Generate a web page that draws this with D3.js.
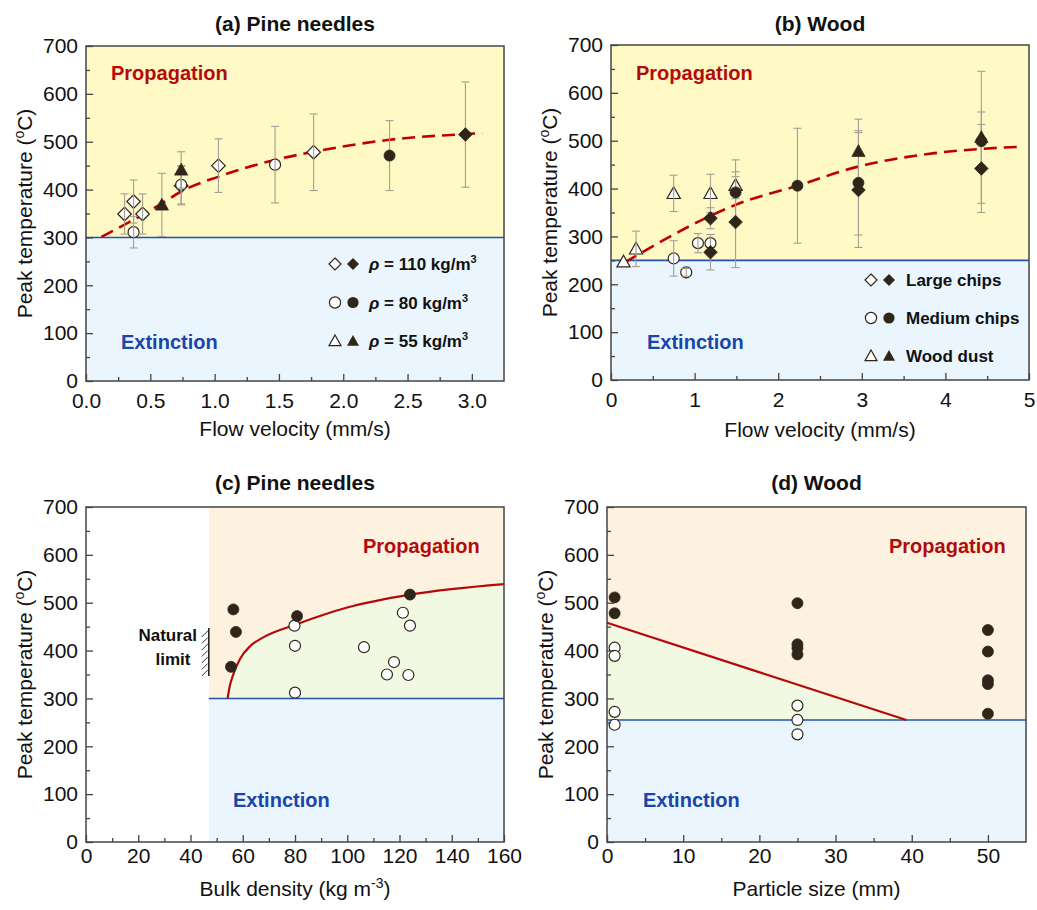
<!DOCTYPE html>
<html>
<head>
<meta charset="utf-8">
<script src="https://cdn.jsdelivr.net/npm/d3@7"></script>
<style>
  body { margin: 0; background: #fff; }
  svg { display: block; font-family: "Liberation Sans", Arial, sans-serif; }
</style>
</head>
<body>
<svg id="fig" width="1037" height="910"></svg>
<script>
// ---- data: [x, peak T, error] ----
// (a) pine needles vs flow velocity
const aOpen110   = [[0.30,349,42],[0.37,375,45],[0.44,349,42],[0.74,408,40],[1.03,450,56],[1.77,478,80]];
const aFilled110 = [[2.95,515,110]];
const aOpen80    = [[0.37,311,33],[0.74,410,40],[1.47,452,80]];
const aFilled80  = [[2.36,471,73]];
const aFilled55  = [[0.59,368,66],[0.74,441,38]];
const aFit       = [[0.12,301],[0.59,371],[0.74,396],[1.03,427],[1.47,462],[1.77,479],[2.36,504],[2.95,516],[3.08,518]];
const aLegend    = ["110", "80", "55"];

// (b) wood vs flow velocity
const bOpenDust     = [[0.15,247,0],[0.30,274,37],[0.75,390,38],[1.19,390,40],[1.49,407,28]];
const bOpenMedium   = [[0.75,254,37],[0.90,225,8],[1.04,286,20],[1.19,286,18]];
const bFilledLarge  = [[1.19,338,22],[1.19,267,37],[1.49,330,95],[2.96,397,120],[4.43,442,92]];
const bFilledMedium = [[1.49,392,68],[2.23,406,120],[2.96,412,109],[4.43,499,61]];
const bFilledDust   = [[2.96,478,67],[4.43,507,138]];
const bFit          = [[0.17,246],[1.19,343],[1.49,366],[2.23,406],[2.96,446],[3.87,474],[4.43,483],[4.86,487]];
const bLegend       = ["Large chips", "Medium chips", "Wood dust"];

// (c) pine needles vs bulk density
const cFilled = [[56.4,486],[57.4,439],[55.5,366],[80.8,472],[124,517]];
const cOpen   = [[79.8,452],[80,410],[80,312],[106.4,407],[117.9,376],[115.2,350],[123.4,349],[121.3,479],[124,452]];
const cLimit  = [[54.2,300],[55,325],[56.5,352],[59,383],[63,410],[68,428],[80.6,455],[100,490],[124,517],[160,539]];
const cNatural = 47;   // natural packing limit, kg m-3

// (d) wood vs particle size
const dFilled = [[1,511],[1,478],[25,499],[25,413],[25,405],[25,392],[50,443],[50,398],[50,338],[50,330],[50,268]];
const dOpen   = [[1,406],[1,389],[1,272],[1,245],[25,285],[25,255],[25,225]];
const dLimit  = [[0,458],[39.3,255]];

// extinction threshold per panel
const thresholds = {a: 300, b: 250, c: 300, d: 255};

const svg = d3.select("#fig");
const col = {
  yellow: "#fff9c6", blue: "#eaf5fd", peach: "#fdf1e0", green: "#f1f9e3",
  red: "#b30b0b", dash: "#c00000", blueLine: "#2350b4", blueText: "#1a45aa",
  ink: "#2e2619", bar: "#a49e94", frame: "#444"
};

function shape(kind, s) {
  if (kind === "diamond") return `M0,${-s}L${s},0L0,${s}L${-s},0Z`;
  if (kind === "triangle") return `M0,${-s}L${s},${s*0.78}L${-s},${s*0.78}Z`;
  return `M${s},0A${s},${s} 0 1,1 ${-s},0A${s},${s} 0 1,1 ${s},0Z`;
}
const sizeOf = {diamond: 6.8, circle: 5.5, triangle: 6.6};

function makePanel(o) {
  const x = d3.scaleLinear().domain(o.xDomain).range([o.left, o.right]);
  const y = d3.scaleLinear().domain([0, 700]).range([o.bottom, o.top]);
  const g = svg.append("g");
  return {o, x, y, g, back: g.append("g"), mid: g.append("g"), front: g.append("g")};
}

function markers(p, data, kind, filled) {
  p.mid.selectAll(null).data(data).enter().append("path")
    .attr("d", shape(kind, sizeOf[kind]))
    .attr("transform", d => `translate(${p.x(d[0])},${p.y(d[1])})`)
    .attr("fill", filled ? col.ink : "#fff")
    .attr("stroke", col.ink)
    .attr("stroke-width", filled ? 0.8 : 1.2);
}

function errorBars(p, data) {
  const gb = p.mid.append("g").attr("stroke", col.bar).attr("stroke-width", 1.1);
  data.filter(d => d[2] > 0).forEach(d => {
    const cx = p.x(d[0]);
    gb.append("line").attr("x1", cx).attr("x2", cx).attr("y1", p.y(d[1] - d[2])).attr("y2", p.y(d[1] + d[2]));
    [d[1] - d[2], d[1] + d[2]].forEach(v => {
      gb.append("line").attr("x1", cx - 4).attr("x2", cx + 4).attr("y1", p.y(v)).attr("y2", p.y(v));
    });
  });
}

function frameAndAxes(p, xMajor, xMinor, fmt, xPad) {
  const {o, x, y, front} = p;
  front.append("rect").attr("x", o.left).attr("y", o.top)
    .attr("width", o.right - o.left).attr("height", o.bottom - o.top)
    .attr("fill", "none").attr("stroke", col.frame).attr("stroke-width", 1.5);

  const style = sel => {
    sel.select(".domain").remove();
    sel.selectAll("line").attr("stroke", col.frame).attr("stroke-width", 1.3);
    sel.selectAll("text").attr("font-size", 21).attr("fill", "#111")
      .attr("font-family", '"Liberation Sans", Arial, sans-serif');
  };
  front.append("g").attr("transform", `translate(${o.left},0)`)
    .call(d3.axisLeft(y).tickValues(d3.range(0, 701, 100)).tickSize(-7).tickPadding(8)).call(style);
  front.append("g").attr("transform", `translate(${o.left},0)`)
    .call(d3.axisLeft(y).tickValues(d3.range(50, 700, 100)).tickSize(-4).tickFormat("")).call(style);
  front.append("g").attr("transform", `translate(0,${o.bottom})`)
    .call(d3.axisBottom(x).tickValues(xMajor).tickSize(-7).tickPadding(xPad).tickFormat(fmt)).call(style);
  front.append("g").attr("transform", `translate(0,${o.bottom})`)
    .call(d3.axisBottom(x).tickValues(xMinor).tickSize(-4).tickFormat("")).call(style);

  // y label
  const yl = front.append("text")
    .attr("transform", `translate(${o.left - 54},${(o.top + o.bottom) / 2}) rotate(-90)`)
    .attr("text-anchor", "middle").attr("font-size", 21).attr("fill", "#111");
  yl.append("tspan").text("Peak temperature (");
  yl.append("tspan").attr("font-size", 14).attr("dy", -8).text("o");
  yl.append("tspan").attr("dy", 8).text("C)");
}

function regionLabels(p, px, py, ex, ey) {
  p.front.append("text").attr("x", px).attr("y", py).attr("font-size", 20).attr("font-weight", "bold")
    .attr("fill", col.red).text("Propagation");
  p.front.append("text").attr("x", ex).attr("y", ey).attr("font-size", 20).attr("font-weight", "bold")
    .attr("fill", col.blueText).text("Extinction");
}

function title(p, txt, yy) {
  p.front.append("text").attr("x", (p.o.left + p.o.right) / 2).attr("y", yy)
    .attr("text-anchor", "middle").attr("font-size", 21).attr("font-weight", "bold")
    .attr("fill", "#111").text(txt);
}

function xTitle(p, yy) {
  return p.front.append("text").attr("x", (p.o.left + p.o.right) / 2).attr("y", yy)
    .attr("text-anchor", "middle").attr("font-size", 21).attr("fill", "#111");
}

function flowBackground(p, th) {
  const {o, y} = p;
  p.back.append("rect").attr("x", o.left).attr("y", o.top).attr("width", o.right - o.left)
    .attr("height", y(th) - o.top).attr("fill", col.yellow);
  p.back.append("rect").attr("x", o.left).attr("y", y(th)).attr("width", o.right - o.left)
    .attr("height", o.bottom - y(th)).attr("fill", col.blue);
  p.back.append("line").attr("x1", o.left).attr("x2", o.right).attr("y1", y(th)).attr("y2", y(th))
    .attr("stroke", col.blueLine).attr("stroke-width", 1.6);
}

function fitCurve(p, pts) {
  p.back.append("path").datum(pts)
    .attr("d", d3.line().x(d => p.x(d[0])).y(d => p.y(d[1])).curve(d3.curveMonotoneX))
    .attr("fill", "none").attr("stroke", col.dash).attr("stroke-width", 2.6)
    .attr("stroke-dasharray", "13,7");
}

// ================= (a) =================
const pa = makePanel({left: 86, right: 504, top: 46, bottom: 381, xDomain: [0, 3.25]});
flowBackground(pa, thresholds.a);
fitCurve(pa, aFit);
markers(pa, aOpen110, "diamond", false);
markers(pa, aOpen80, "circle", false);
errorBars(pa, [...aOpen110, ...aOpen80, ...aFilled110, ...aFilled80, ...aFilled55]);
markers(pa, aFilled110, "diamond", true);
markers(pa, aFilled80, "circle", true);
markers(pa, aFilled55, "triangle", true);
frameAndAxes(pa, d3.range(0, 3.01, 0.5), d3.range(0.25, 3.25, 0.5), d3.format(".1f"), 12);
regionLabels(pa, 111, 80, 121, 349);
title(pa, "(a) Pine needles", 31);
xTitle(pa, 436).text("Flow velocity (mm/s)");

const legA = pa.front.append("g");
["diamond", "circle", "triangle"].forEach((k, i) => {
  const yy = 264 + i * 38.5;
  legA.append("path").attr("d", shape(k, k === "circle" ? 5.6 : 6)).attr("transform", `translate(335,${yy})`)
    .attr("fill", "#fff").attr("stroke", col.ink).attr("stroke-width", 1.2);
  legA.append("path").attr("d", shape(k, k === "circle" ? 5.6 : 6)).attr("transform", `translate(353,${yy})`)
    .attr("fill", col.ink);
  const t = legA.append("text").attr("x", 369).attr("y", yy + 6).attr("font-size", 17)
    .attr("font-weight", "bold").attr("fill", "#111");
  t.append("tspan").attr("font-style", "italic").text("ρ");
  t.append("tspan").text(` = ${aLegend[i]} kg/m`);
  t.append("tspan").attr("font-size", 11).attr("dy", -7).text("3");
});

// ================= (b) =================
const pb = makePanel({left: 611, right: 1029, top: 45, bottom: 380, xDomain: [0, 5]});
flowBackground(pb, thresholds.b);
fitCurve(pb, bFit);
markers(pb, bOpenDust, "triangle", false);
markers(pb, bOpenMedium, "circle", false);
errorBars(pb, [...bOpenDust, ...bOpenMedium, ...bFilledLarge, ...bFilledMedium, ...bFilledDust]);
markers(pb, bFilledLarge, "diamond", true);
markers(pb, bFilledMedium, "circle", true);
markers(pb, bFilledDust, "triangle", true);
frameAndAxes(pb, d3.range(0, 5.01, 1), d3.range(0.5, 5, 1), d3.format("d"), 12);
regionLabels(pb, 636, 80, 647, 349);
title(pb, "(b) Wood", 31);
xTitle(pb, 437).text("Flow velocity (mm/s)");

const legB = pb.front.append("g");
["diamond", "circle", "triangle"].forEach((k, i) => {
  const yy = 280 + i * 38;
  legB.append("path").attr("d", shape(k, k === "circle" ? 5.6 : 6)).attr("transform", `translate(871,${yy})`)
    .attr("fill", "#fff").attr("stroke", col.ink).attr("stroke-width", 1.2);
  legB.append("path").attr("d", shape(k, k === "circle" ? 5.6 : 6)).attr("transform", `translate(889,${yy})`)
    .attr("fill", col.ink);
  legB.append("text").attr("x", 906).attr("y", yy + 6).attr("font-size", 17)
    .attr("font-weight", "bold").attr("fill", "#111").text(bLegend[i]);
});

// ================= (c) =================
const pc = makePanel({left: 86, right: 504, top: 507, bottom: 842, xDomain: [0, 160]});
{
  const {o, x, y, back} = pc;
  const th = thresholds.c, xn = x(cNatural);
  back.append("rect").attr("x", xn).attr("y", o.top).attr("width", o.right - xn)
    .attr("height", y(th) - o.top).attr("fill", col.peach);
  back.append("rect").attr("x", xn).attr("y", y(th)).attr("width", o.right - xn)
    .attr("height", o.bottom - y(th)).attr("fill", col.blue);
  back.append("path").datum(cLimit)
    .attr("d", d3.area().x(d => x(d[0])).y0(y(th)).y1(d => y(d[1])).curve(d3.curveMonotoneX))
    .attr("fill", col.green);
  back.append("line").attr("x1", xn).attr("x2", o.right).attr("y1", y(th)).attr("y2", y(th))
    .attr("stroke", col.blueLine).attr("stroke-width", 1.6);
  back.append("path").datum(cLimit)
    .attr("d", d3.line().x(d => x(d[0])).y(d => y(d[1])).curve(d3.curveMonotoneX))
    .attr("fill", "none").attr("stroke", col.red).attr("stroke-width", 2.2);

  // natural limit mark
  const y1 = 628, y2 = 676;
  const nl = pc.front.append("g").attr("stroke", "#222");
  nl.append("line").attr("x1", xn).attr("x2", xn).attr("y1", y1).attr("y2", y2).attr("stroke-width", 1.6);
  d3.range(y1 + 3, y2, 6.5).forEach(yy => {
    nl.append("line").attr("x1", xn - 7).attr("x2", xn - 1).attr("y1", yy + 6).attr("y2", yy).attr("stroke-width", 0.9);
  });
  pc.front.append("text").attr("x", 197).attr("y", 641).attr("text-anchor", "end")
    .attr("font-size", 17).attr("font-weight", "bold").attr("font-stretch", "condensed")
    .attr("font-family", '"Liberation Sans Narrow", "Arial Narrow", sans-serif').attr("fill", "#111").text("Natural");
  pc.front.append("text").attr("x", 173).attr("y", 665).attr("text-anchor", "middle")
    .attr("font-size", 17).attr("font-weight", "bold").attr("font-stretch", "condensed")
    .attr("font-family", '"Liberation Sans Narrow", "Arial Narrow", sans-serif').attr("fill", "#111").text("limit");
}
markers(pc, cOpen, "circle", false);
markers(pc, cFilled, "circle", true);
frameAndAxes(pc, d3.range(0, 161, 20), d3.range(10, 160, 20), d3.format("d"), 6);
regionLabels(pc, 363, 553, 233, 807);
title(pc, "(c) Pine needles", 490);
{
  const t = xTitle(pc, 896);
  t.append("tspan").text("Bulk density (kg m");
  t.append("tspan").attr("font-size", 14).attr("dy", -8).text("-3");
  t.append("tspan").attr("dy", 8).text(")");
}

// ================= (d) =================
const pd = makePanel({left: 607, right: 1026, top: 507, bottom: 842, xDomain: [0, 55]});
{
  const {o, x, y, back} = pd;
  const th = thresholds.d;
  back.append("rect").attr("x", o.left).attr("y", o.top).attr("width", o.right - o.left)
    .attr("height", y(th) - o.top).attr("fill", col.peach);
  back.append("rect").attr("x", o.left).attr("y", y(th)).attr("width", o.right - o.left)
    .attr("height", o.bottom - y(th)).attr("fill", col.blue);
  back.append("path").datum(dLimit)
    .attr("d", d3.area().x(d => x(d[0])).y0(y(th)).y1(d => y(d[1])))
    .attr("fill", col.green);
  back.append("line").attr("x1", o.left).attr("x2", o.right).attr("y1", y(th)).attr("y2", y(th))
    .attr("stroke", col.blueLine).attr("stroke-width", 1.6);
  back.append("path").datum(dLimit)
    .attr("d", d3.line().x(d => x(d[0])).y(d => y(d[1])))
    .attr("fill", "none").attr("stroke", col.red).attr("stroke-width", 2.2);
}
markers(pd, dOpen, "circle", false);
markers(pd, dFilled, "circle", true);
frameAndAxes(pd, d3.range(0, 51, 10), d3.range(5, 55, 10), d3.format("d"), 6);
regionLabels(pd, 889, 553, 643, 807);
title(pd, "(d) Wood", 490);
xTitle(pd, 896).text("Particle size (mm)");
</script>
</body>
</html>
